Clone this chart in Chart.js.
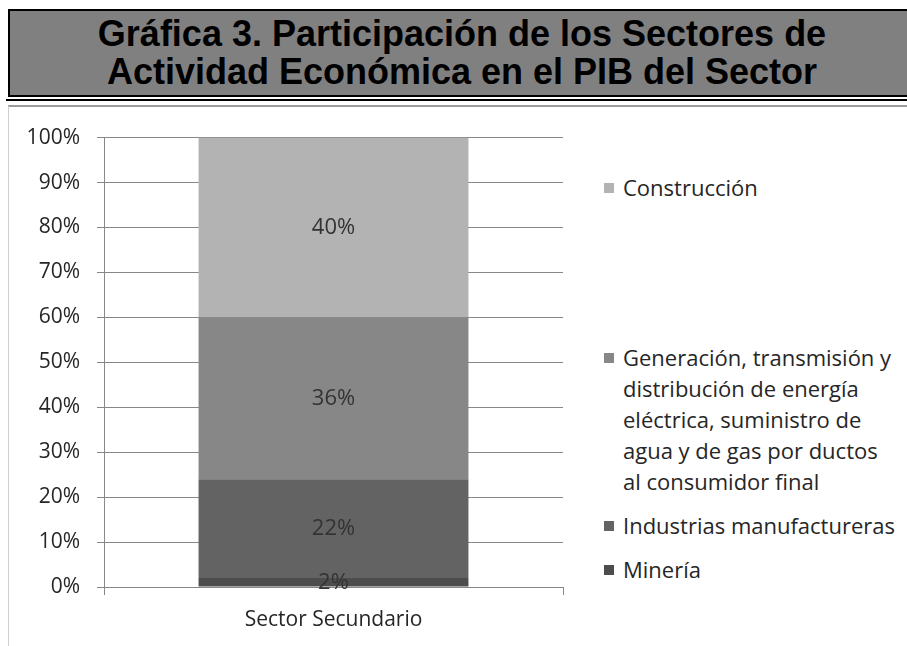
<!DOCTYPE html>
<html>
<head>
<meta charset="utf-8">
<script src="https://cdn.jsdelivr.net/npm/chart.js@4/dist/chart.umd.min.js"></script>
<style>
  html, body { margin: 0; padding: 0; background: #fff; }
  body { width: 907px; height: 646px; position: relative; overflow: hidden; font-family: "Open Sans", sans-serif; }
  #title-box {
    position: absolute; left: 8px; top: 9px; width: 904px; height: 84px;
    background: #808080; border: 2px solid #000;
  }
  #title-box div {
    position: absolute; left: 0; width: 100%; text-align: center; white-space: nowrap;
    font-family: "Liberation Sans", Arial, sans-serif; font-weight: bold;
    font-size: 36px; line-height: 36px; color: #000;
  }
  #rule-black { position: absolute; left: 6px; right: 0; top: 99px; height: 2px; background: #000; }
  #rule-gray { position: absolute; left: 8px; right: 0; top: 105px; height: 2px; background: #9c9c9c; }
  #rule-left { position: absolute; left: 8px; top: 106px; bottom: 0; width: 1px; background: #cfcfcf; }
  #chart-wrap { position: absolute; left: 10px; top: 108px; width: 570px; height: 538px; }
  #legend { position: absolute; left: 0; top: 0; }
  .leg-item { position: absolute; left: 604px; width: 303px; font-size: 22px; line-height: 31px; color: #262626; white-space: nowrap; }
  .leg-item span.sw { position: absolute; left: 0; top: 11px; width: 10px; height: 10px; }
  .leg-item span.tx { display: block; margin-left: 19px; }
</style>
</head>
<body>
<div id="title-box">
  <div style="top: 5px;">Gráfica 3. Participación de los Sectores de</div>
  <div style="top: 43px;">Actividad Económica en el PIB del Sector</div>
</div>
<div id="rule-black"></div>
<div id="rule-gray"></div>
<div id="rule-left"></div>
<div id="chart-wrap"><canvas id="chart" width="570" height="538"></canvas></div>
<div id="legend"></div>
<script>
const categories = ['Sector Secundario'];
const seriesNames = ['Minería', 'Industrias manufactureras',
  'Generación, transmisión y distribución de energía eléctrica, suministro de agua y de gas por ductos al consumidor final',
  'Construcción'];
const mineria = [2];
const industrias = [22];
const generacion = [36];
const construccion = [40];
const seriesColors = ['#4d4d4d', '#636363', '#878787', '#b3b3b3'];
const yTicks = [0, 10, 20, 30, 40, 50, 60, 70, 80, 90, 100];

// legend lines for the long entry are wrapped by hand, like the original
const legendLines = [
  ['Minería'],
  ['Industrias manufactureras'],
  ['Generación, transmisión y', 'distribución de energía', 'eléctrica, suministro de', 'agua y de gas por ductos', 'al consumidor final'],
  ['Construcción']
];
const legendTops = [554, 510, 342, 172];

const gridColor = '#878787';
const textFont = 'Open Sans, sans-serif';

const barLabels = {
  id: 'barLabels',
  afterDatasetsDraw(chart) {
    const ctx = chart.ctx;
    ctx.save();
    ctx.font = '22px ' + textFont;
    ctx.fillStyle = '#333';
    ctx.textAlign = 'center';
    ctx.textBaseline = 'middle';
    chart.data.datasets.forEach((ds, i) => {
      chart.getDatasetMeta(i).data.forEach((bar, j) => {
        const y = (bar.y + bar.base) / 2;
        ctx.fillText(ds.data[j] + '%', bar.x, y);
      });
    });
    ctx.restore();
  }
};

function buildLegend() {
  const legend = document.getElementById('legend');
  seriesNames.forEach((name, i) => {
    const item = document.createElement('div');
    item.className = 'leg-item';
    item.style.top = legendTops[i] + 'px';
    const sw = document.createElement('span');
    sw.className = 'sw';
    sw.style.background = seriesColors[i];
    const tx = document.createElement('span');
    tx.className = 'tx';
    tx.innerHTML = legendLines[i].join('<br>');
    item.appendChild(sw);
    item.appendChild(tx);
    legend.appendChild(item);
  });
}

const seriesValues = [mineria, industrias, generacion, construccion];

new Chart(document.getElementById('chart'), {
  type: 'bar',
  data: {
    labels: categories,
    datasets: seriesNames.map((name, i) => ({
      label: name,
      data: seriesValues[i],
      backgroundColor: seriesColors[i],
      borderWidth: 0,
      barPercentage: 0.588,
      categoryPercentage: 1
    }))
  },
  options: {
    responsive: false,
    animation: false,
    layout: { padding: { top: 26, right: 17, bottom: 0, left: 0 } },
    plugins: { legend: { display: false }, tooltip: { enabled: false } },
    scales: {
      x: {
        stacked: true,
        grid: { display: true, drawOnChartArea: false, drawTicks: true, tickLength: 8, color: gridColor },
        border: { display: true, color: gridColor },
        ticks: { color: '#262626', font: { family: textFont, size: 21 }, padding: 12 },
        afterFit(scale) { scale.height = 59; }
      },
      y: {
        stacked: true,
        min: 0,
        max: 100,
        afterBuildTicks(scale) { scale.ticks = yTicks.map(v => ({ value: v })); },
        grid: { color: gridColor, tickLength: 7 },
        border: { display: true, color: gridColor },
        ticks: {
          color: '#262626',
          font: { family: textFont, size: 21 },
          padding: 17,
          callback: v => v + '%'
        },
        afterFit(scale) { scale.width = 94; }
      }
    }
  },
  plugins: [barLabels]
});

buildLegend();
</script>
</body>
</html>
